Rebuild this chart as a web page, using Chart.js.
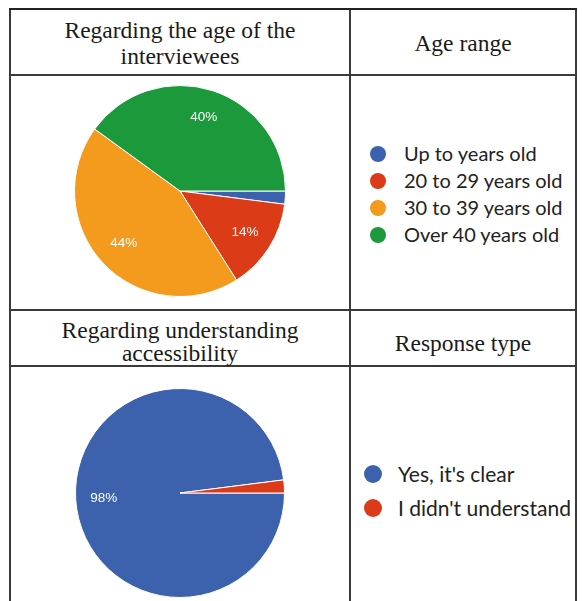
<!DOCTYPE html>
<html>
<head>
<meta charset="utf-8">
<script src="https://cdn.jsdelivr.net/npm/chart.js@4"></script>
<style>
  html, body { margin: 0; padding: 0; background: #fff; }
  body { width: 582px; height: 601px; position: relative; overflow: hidden; }
  .ligne { position: absolute; background: #3a3a3a; }
  .entete { position: absolute; font-family: 'Liberation Serif', 'DejaVu Serif', serif;
            font-size: 23.5px; color: #1a1a1a; text-align: center; line-height: 26px; }
  .legende { position: absolute; font-family: Lato, 'Open Sans', sans-serif; color: #222; }
  .legende div { position: relative; white-space: nowrap; }
  .legende span { position: absolute; border-radius: 50%; }
  canvas { position: absolute; }
</style>
</head>
<body>

<!-- grille du tableau -->
<div class="ligne" style="left:9px;top:8px;width:2px;height:593px"></div>
<div class="ligne" style="left:349px;top:8px;width:2px;height:593px"></div>
<div class="ligne" style="left:575px;top:8px;width:2px;height:593px"></div>
<div class="ligne" style="left:9px;top:8px;width:568px;height:2px;background:#222"></div>
<div class="ligne" style="left:9px;top:74px;width:568px;height:2px"></div>
<div class="ligne" style="left:9px;top:309px;width:568px;height:2px"></div>
<div class="ligne" style="left:9px;top:365px;width:568px;height:2px"></div>

<div class="entete" style="left:11px;width:338px;top:17px">Regarding the age of the<br>interviewees</div>
<div class="entete" style="left:351px;width:224px;top:30px">Age range</div>
<div class="entete" style="left:11px;width:338px;top:319px;line-height:23px">Regarding understanding<br>accessibility</div>
<div class="entete" style="left:351px;width:224px;top:330px">Response type</div>

<canvas id="chartAge" width="212" height="212" style="left:74px;top:85px"></canvas>
<canvas id="chartComprehension" width="210" height="210" style="left:75px;top:388px"></canvas>

<div class="legende" id="legendeAge" style="left:370px;top:140px;font-size:20px"></div>
<div class="legende" id="legendeComprehension" style="left:364px;top:457px;font-size:21px"></div>

<script>
// ── DONNÉES ───────────────────────────────────────
const AGE_LABELS  = ['Up to years old', '20 to 29 years old', '30 to 39 years old', 'Over 40 years old'];
const AGE_VALEURS = [2, 14, 44, 40];

const COMP_LABELS  = ["Yes, it's clear", "I didn't understand"];
const COMP_VALEURS = [98, 2];

// ── COULEURS ──────────────────────────────────────
const COULEURS = {
  bleu:   '#3c62ae',
  rouge:  '#dc3b17',
  orange: '#f49b1d',
  vert:   '#1c9a3b'
};

// Pourcentages écrits dans les parts (comme Google Forms), on saute les petites
const pourcentages = {
  id: 'pourcentages',
  afterDatasetsDraw(chart) {
    const ctx = chart.ctx;
    const valeurs = chart.data.datasets[0].data;
    const total = valeurs.reduce((a, b) => a + b, 0);
    ctx.save();
    ctx.fillStyle = '#fff';
    ctx.font = '13.5px "Liberation Sans", Arial, sans-serif';
    ctx.textAlign = 'center';
    ctx.textBaseline = 'middle';
    chart.getDatasetMeta(0).data.forEach(function(arc, i) {
      const pct = valeurs[i] / total * 100;
      if (pct < 5) return;
      const p = arc.getProps(['x', 'y', 'startAngle', 'endAngle', 'outerRadius'], true);
      const milieu = (p.startAngle + p.endAngle) / 2;
      const r = p.outerRadius * 0.73;
      ctx.fillText(Math.round(pct) + '%', p.x + Math.cos(milieu) * r, p.y + Math.sin(milieu) * r);
    });
    ctx.restore();
  }
};

function dessinerCamembert(id, labels, valeurs, couleurs) {
  return new Chart(document.getElementById(id), {
    type: 'pie',
    data: {
      labels: labels,
      datasets: [{
        data: valeurs,
        backgroundColor: couleurs,
        borderColor: '#ffffff',
        borderWidth: 1
      }]
    },
    options: {
      responsive: false,
      animation: false,
      rotation: 90,
      layout: { padding: 0 },
      plugins: { legend: { display: false }, tooltip: { enabled: false } }
    },
    plugins: [pourcentages]
  });
}

// Légende HTML construite depuis le graphique
function remplirLegende(chart, idLegende, pas, rayon, decalTexte) {
  const boite = document.getElementById(idLegende);
  const couleurs = chart.data.datasets[0].backgroundColor;
  chart.data.labels.forEach(function(label, i) {
    const ligne = document.createElement('div');
    ligne.style.height = pas + 'px';
    ligne.style.lineHeight = pas + 'px';
    ligne.style.paddingLeft = decalTexte + 'px';
    const point = document.createElement('span');
    point.style.width = point.style.height = (rayon * 2) + 'px';
    point.style.left = '0px';
    point.style.top = (pas / 2 - rayon) + 'px';
    point.style.background = couleurs[i];
    ligne.appendChild(point);
    ligne.appendChild(document.createTextNode(label));
    boite.appendChild(ligne);
  });
}

const chartAge = dessinerCamembert('chartAge', AGE_LABELS, AGE_VALEURS,
  [COULEURS.bleu, COULEURS.rouge, COULEURS.orange, COULEURS.vert]);
const chartComp = dessinerCamembert('chartComprehension', COMP_LABELS, COMP_VALEURS,
  [COULEURS.bleu, COULEURS.rouge]);

remplirLegende(chartAge, 'legendeAge', 27, 8, 34);
remplirLegende(chartComp, 'legendeComprehension', 34, 9, 34);
</script>
</body>
</html>
